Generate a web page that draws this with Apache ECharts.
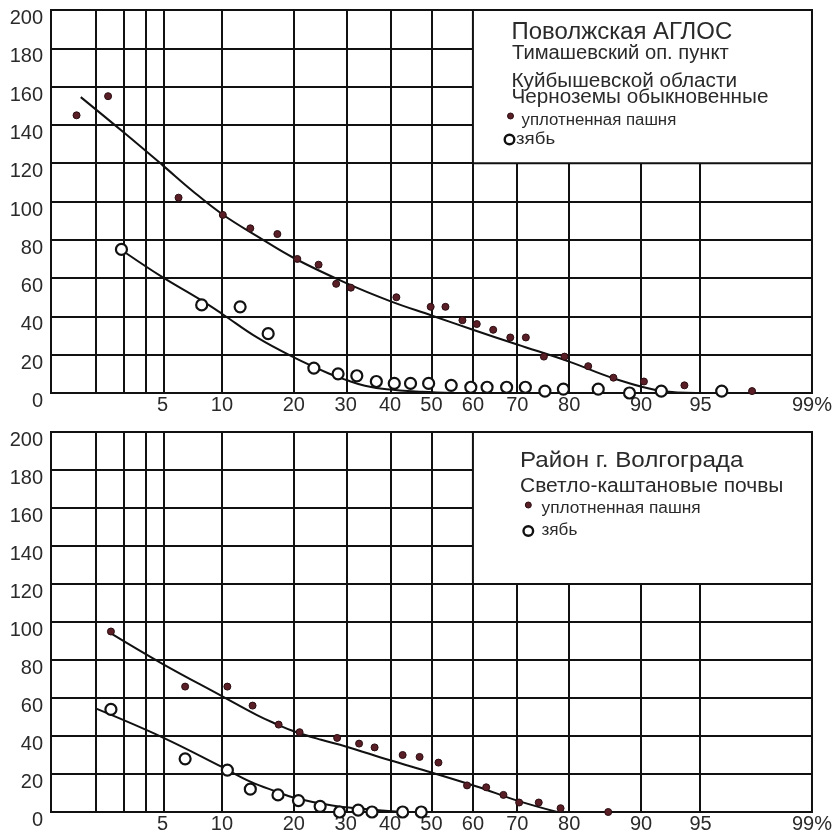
<!DOCTYPE html>
<html>
<head>
<meta charset="utf-8">
<script src="https://cdn.jsdelivr.net/npm/echarts@6/dist/echarts.min.js"></script>
<style>
  html, body { margin: 0; padding: 0; background: #fff; }
  #chart { width: 835px; height: 834px; }
</style>
</head>
<body>
<div id="chart"></div>
<script>
// Probability paper: x = cumulative frequency (%), y = value
const labelPercents = [5, 10, 20, 30, 40, 50, 60, 70, 80, 90, 95, 99];
const gridPercents = [2, 3, 4, 5, 10, 20, 30, 40, 50, 60, 70, 80, 90, 95];

// Panel 1: Поволжская АГЛОС
const p1Dots = [[1.5,145],[2.4,155],[6.1,102],[10.1,93],[13.4,86],[17.3,83],[20.6,70],[24.5,67],[28,57],[31.1,55],[41.5,50],[49.8,45],[53.4,45],[57.5,38],[60.9,36],[64.7,33],[68.5,29],[71.8,29],[75.4,19],[79.2,19],[83.1,14],[86.7,8],[90.3,6],[93.9,4],[97.5,1]];
const p1Rings = [[2.9,75],[8.0,46],[12.1,45],[15.9,31],[23.6,13],[28.4,10],[32.4,9],[36.8,6],[41.0,5],[44.9,5],[49.3,5],[54.8,4],[59.5,3],[63.3,3],[67.7,3],[71.7,3],[75.6,1],[79.0,2],[84.6,2],[88.7,0],[92.0,1],[96.2,1]];
const p1CurveDots = [[1.6,154.5],[3,136],[5,119],[7.2,105.5],[10,93.5],[14.7,81],[20,70.5],[30,57.5],[40,48],[50,40.5],[60,33],[70,25.3],[80,16.4],[86.7,7.7],[92.1,1],[94.7,0]];
const p1CurveRings = [[3.1,73],[5,60.5],[7.8,49],[10,41.4],[14.3,29],[20,18.6],[26.5,10.2],[30,6.9],[34.2,3.8],[39.2,1.9],[47.7,0.6],[55.6,0]];

// Panel 2: Район г. Волгограда
const p2Dots = [[2.5,95],[6.6,66],[10.6,66],[13.7,56],[17.5,46],[21.0,42],[28.2,39],[32.9,36],[36.4,34],[43.0,30],[47.1,29],[51.7,26],[58.6,14],[63.1,13],[67.0,9],[70.4,5],[74.4,5],[78.5,2],[86.0,0]];
const p2Rings = [[2.5,54],[6.6,28],[10.6,22],[13.4,12],[17.4,9],[20.8,6],[24.8,3],[28.7,0],[32.7,1],[35.8,0],[43.0,0],[47.5,0]];
const p2CurveDots = [[2.5,94],[5,78],[10,61],[14.3,51],[17,46.5],[20,42.5],[25,38],[30,34.5],[40,27.2],[50,20.8],[60.9,13.4],[70,6],[77.9,0]];
const p2CurveRings = [[2,54.5],[5,39.3],[10,23.7],[13.4,16],[17.1,10.8],[20.2,7.4],[27.2,3.4],[34.2,1.6],[43,0]];

const legendDots = 'уплотненная пашня';
const legendRings = 'зябь';

// Inverse of the standard normal CDF (Acklam's approximation)
function probit(p) {
  const a = [-3.969683028665376e+01, 2.209460984245205e+02, -2.759285104469687e+02, 1.383577518672690e+02, -3.066479806614716e+01, 2.506628277459239e+00];
  const b = [-5.447609879822406e+01, 1.615858368580409e+02, -1.556989798598866e+02, 6.680131188771972e+01, -1.328068155288572e+01];
  const c = [-7.784894002430293e-03, -3.223964580411365e-01, -2.400758277161838e+00, -2.549732539343734e+00, 4.374664141464968e+00, 2.938163982698783e+00];
  const d = [7.784695709041462e-03, 3.224671290700398e-01, 2.445134137142996e+00, 3.754408661907416e+00];
  const pl = 0.02425, ph = 1 - pl;
  let q, r;
  if (p < pl) {
    q = Math.sqrt(-2 * Math.log(p));
    return (((((c[0]*q+c[1])*q+c[2])*q+c[3])*q+c[4])*q+c[5]) / ((((d[0]*q+d[1])*q+d[2])*q+d[3])*q+1);
  }
  if (p <= ph) {
    q = p - 0.5; r = q * q;
    return (((((a[0]*r+a[1])*r+a[2])*r+a[3])*r+a[4])*r+a[5])*q / (((((b[0]*r+b[1])*r+b[2])*r+b[3])*r+b[4])*r+1);
  }
  q = Math.sqrt(-2 * Math.log(1 - p));
  return -(((((c[0]*q+c[1])*q+c[2])*q+c[3])*q+c[4])*q+c[5]) / ((((d[0]*q+d[1])*q+d[2])*q+d[3])*q+1);
}
const z = pct => probit(pct / 100);
const toZ = arr => arr.map(([p, v]) => [z(p), v]);

const FONT = '"Liberation Sans", Arial, Helvetica, sans-serif';
const INK = '#111';
const TEXT = '#2a2a2a';
const xMin = z(1), xMax = z(99);
const labelValues = labelPercents.map(z);

function xAxisFor(gi) {
  return {
    type: 'value', gridIndex: gi, min: xMin, max: xMax,
    axisLine: { show: false }, axisTick: { show: false }, splitLine: { show: false },
    axisLabel: {
      customValues: labelValues, margin: 2,
      fontFamily: FONT, fontSize: 20, color: TEXT,
      formatter: v => {
        let best = 0;
        labelValues.forEach((lv, i) => { if (Math.abs(lv - v) < Math.abs(labelValues[best] - v)) best = i; });
        const p = labelPercents[best];
        return p === 99 ? '99%' : String(p);
      }
    }
  };
}
function yAxisFor(gi) {
  return {
    type: 'value', gridIndex: gi, min: 0, max: 200, interval: 20,
    axisLine: { show: false }, axisTick: { show: false },
    splitLine: { show: true, lineStyle: { color: INK, width: 2 } },
    // numbers sit just below their ruling
    axisLabel: { margin: 8, fontFamily: FONT, fontSize: 20, color: TEXT, verticalAlign: 'top', lineHeight: 17 }
  };
}

function panelSeries(gi, dots, rings, curveDots, curveRings) {
  return [
    { // vertical rulings of the probability paper
      type: 'scatter', xAxisIndex: gi, yAxisIndex: gi, data: [], silent: true,
      markLine: {
        z: 2, silent: true, symbol: ['none', 'none'], label: { show: false },
        lineStyle: { color: INK, width: 2, type: 'solid' },
        emphasis: { disabled: true },
        data: gridPercents.map(p => ({ xAxis: z(p) }))
      }
    },
    { // white caption box in the upper right
      type: 'scatter', xAxisIndex: gi, yAxisIndex: gi, data: [], silent: true,
      markArea: {
        z: 3, silent: true, label: { show: false },
        itemStyle: { color: '#fff', borderColor: INK, borderWidth: 2 },
        emphasis: { disabled: true },
        data: [[{ coord: [z(60), 120] }, { coord: [xMax, 200] }]]
      }
    },
    {
      type: 'line', xAxisIndex: gi, yAxisIndex: gi, z: 4, smooth: 0.4, showSymbol: false, clip: false,
      lineStyle: { color: INK, width: 2 }, data: toZ(curveDots)
    },
    {
      type: 'line', xAxisIndex: gi, yAxisIndex: gi, z: 4, smooth: 0.4, showSymbol: false, clip: false,
      lineStyle: { color: INK, width: 2 }, data: toZ(curveRings)
    },
    {
      name: legendDots, type: 'scatter', xAxisIndex: gi, yAxisIndex: gi, z: 5, clip: false,
      symbol: 'circle', symbolSize: 7,
      itemStyle: { color: '#5a1e26', borderColor: '#2a0e12', borderWidth: 1, opacity: 1 },
      data: toZ(dots)
    },
    {
      name: legendRings, type: 'scatter', xAxisIndex: gi, yAxisIndex: gi, z: 5, clip: false,
      symbol: 'circle', symbolSize: 11,
      itemStyle: { color: '#fff', borderColor: INK, borderWidth: 2.2, opacity: 1 },
      data: toZ(rings)
    }
  ];
}

function txt(x, y, text, size, sx) {
  return { type: 'text', x, y, scaleX: sx || 1, z: 100, silent: true,
    style: { text, fill: TEXT, font: size + 'px ' + FONT, align: 'left', verticalAlign: 'middle' } };
}
function dot(x, y) {
  return { type: 'circle', z: 100, silent: true, shape: { cx: x, cy: y, r: 3 },
    style: { fill: '#5a1e26', stroke: '#2a0e12', lineWidth: 1 } };
}
function ring(x, y) {
  return { type: 'circle', z: 100, silent: true, shape: { cx: x, cy: y, r: 4.8 },
    style: { fill: '#fff', stroke: INK, lineWidth: 2.4 } };
}

const chart = echarts.init(document.getElementById('chart'), null, { renderer: 'canvas' });
chart.setOption({
  animation: false,
  backgroundColor: '#fff',
  textStyle: { fontFamily: FONT },
  grid: [
    { left: 51, top: 10, width: 766, height: 383, show: true, borderColor: INK, borderWidth: 2, backgroundColor: '#fff' },
    { left: 51, top: 432, width: 766, height: 383, show: true, borderColor: INK, borderWidth: 2, backgroundColor: '#fff' }
  ],
  xAxis: [xAxisFor(0), xAxisFor(1)],
  yAxis: [yAxisFor(0), yAxisFor(1)],
  series: [
    ...panelSeries(0, p1Dots, p1Rings, p1CurveDots, p1CurveRings),
    ...panelSeries(1, p2Dots, p2Rings, p2CurveDots, p2CurveRings)
  ],
  graphic: [
    txt(511.5, 32.5, 'Поволжская АГЛОС', 23, 1.04),
    txt(512, 53.5, 'Тимашевский оп. пункт', 20, 1.01),
    txt(511.5, 81, 'Куйбышевской области', 20, 1.035),
    txt(511.5, 97.5, 'Черноземы обыкновенные', 20, 1.035),
    dot(510.5, 116),
    txt(521.5, 120.5, legendDots, 16, 1.05),
    ring(509.5, 139.5),
    txt(516, 139, legendRings, 17, 1.1),

    txt(520, 461, 'Район г. Волгограда', 22, 1.1),
    txt(520, 486.5, 'Светло-каштановые почвы', 20, 1.05),
    dot(528.3, 505),
    txt(541.5, 509, legendDots, 16, 1.08),
    ring(528.3, 531),
    txt(541.5, 531, legendRings, 16, 1.07)
  ]
});
</script>
</body>
</html>
